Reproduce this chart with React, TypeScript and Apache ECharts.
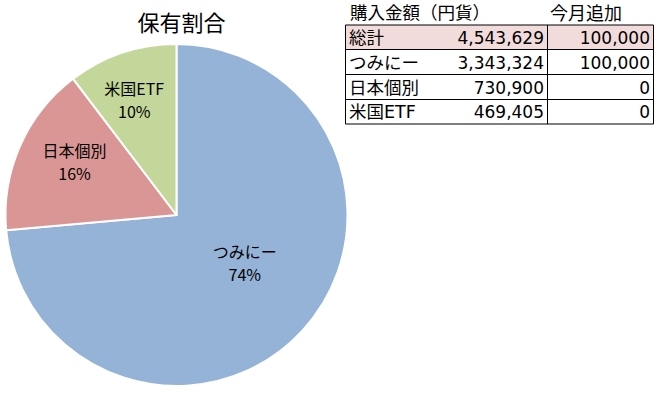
import React, { useEffect, useRef } from "react";
import * as echarts from "echarts";

const title = "保有割合";
const categories = ["つみにー", "日本個別", "米国ETF"];
const amounts = [3343324, 730900, 469405];
const monthlyAdd = [100000, 0, 0];
const totalLabel = "総計";
const totalAmount = 4543629;
const totalMonthly = 100000;
const headerAmount = "購入金額（円貨）";
const headerMonthly = "今月追加";
const colors = ["#95B3D7", "#DA9694", "#C4D79B"];
const labelOffsets: [number, number][] = [[3, -12], [-21, -18], [-14, -32]];

const fmt = (v: number) => v.toLocaleString("en-US");

export default function App() {
  const ref = useRef<HTMLDivElement>(null);
  useEffect(() => {
    document.body.style.margin = "0";
    const chart = echarts.init(ref.current!, undefined, { renderer: "svg" });
    const font = "'Noto Sans CJK JP', 'Noto Sans', sans-serif";
    const tableFont = "'DejaVu Sans', 'Noto Sans CJK JP', sans-serif";
    const left = 345.5, mid = 547.5, right = 653.5;
    const rowYs = [25, 49.5, 74.5, 99.5, 124];
    const rows = [
      { name: totalLabel, amt: totalAmount, add: totalMonthly },
      ...categories.map((c, i) => ({ name: c, amt: amounts[i], add: monthlyAdd[i] })),
    ];
    const graphics: any[] = [];
    graphics.push({
      type: "rect",
      shape: { x: left, y: rowYs[0], width: right - left, height: rowYs[1] - rowYs[0] },
      style: { fill: "#F2DCDB" },
    });
    rowYs.forEach((y) => {
      graphics.push({
        type: "line",
        shape: { x1: left, y1: y, x2: right, y2: y },
        style: { stroke: "#000", lineWidth: 1 },
      });
    });
    [left, mid, right].forEach((x) => {
      graphics.push({
        type: "line",
        shape: { x1: x, y1: rowYs[0], x2: x, y2: rowYs[4] },
        style: { stroke: "#000", lineWidth: 1 },
      });
    });
    graphics.push({
      type: "text", x: 350, y: 13,
      style: { text: headerAmount, font: `17.5px ${tableFont}`, fill: "#000", textAlign: "left", textVerticalAlign: "middle" },
    });
    graphics.push({
      type: "text", x: 550, y: 13,
      style: { text: headerMonthly, font: `18px ${tableFont}`, fill: "#000", textAlign: "left", textVerticalAlign: "middle" },
    });
    rows.forEach((r, i) => {
      const cy = (rowYs[i] + rowYs[i + 1]) / 2 + 0.5;
      graphics.push({
        type: "text", x: 349, y: cy,
        style: { text: r.name, font: `17.5px ${tableFont}`, fill: "#000", textAlign: "left", textVerticalAlign: "middle" },
      });
      graphics.push({
        type: "text", x: 544, y: cy,
        style: { text: fmt(r.amt), font: `17px ${tableFont}`, fill: "#000", textAlign: "right", textVerticalAlign: "middle" },
      });
      graphics.push({
        type: "text", x: 650, y: cy,
        style: { text: fmt(r.add), font: `17px ${tableFont}`, fill: "#000", textAlign: "right", textVerticalAlign: "middle" },
      });
    });

    chart.setOption({
      animation: false,
      title: {
        text: title,
        left: 176.5,
        top: 5,
        textAlign: "center",
        textStyle: { fontFamily: font, fontSize: 22, fontWeight: "normal", color: "#000" },
      },
      graphic: graphics,
      series: [
        {
          type: "pie",
          center: [176.5, 215],
          radius: 171,
          startAngle: 90,
          clockwise: true,
          avoidLabelOverlap: false,
          itemStyle: { borderColor: "#fff", borderWidth: 2 },
          label: {
            show: true,
            position: "inside",
            fontFamily: font,
            fontSize: 16,
            lineHeight: 23,
            color: "#000",
            formatter: (p: any) => `${p.name}\n${Math.round(p.percent)}%`,
          },
          labelLine: { show: false },
          emphasis: { disabled: true },
          data: categories.map((c, i) => ({
            name: c,
            value: amounts[i],
            itemStyle: { color: colors[i] },
            label: { offset: labelOffsets[i] },
          })),
        },
      ],
    });
    return () => chart.dispose();
  }, []);
  return <div ref={ref} style={{ width: 659, height: 393 }} />;
}
